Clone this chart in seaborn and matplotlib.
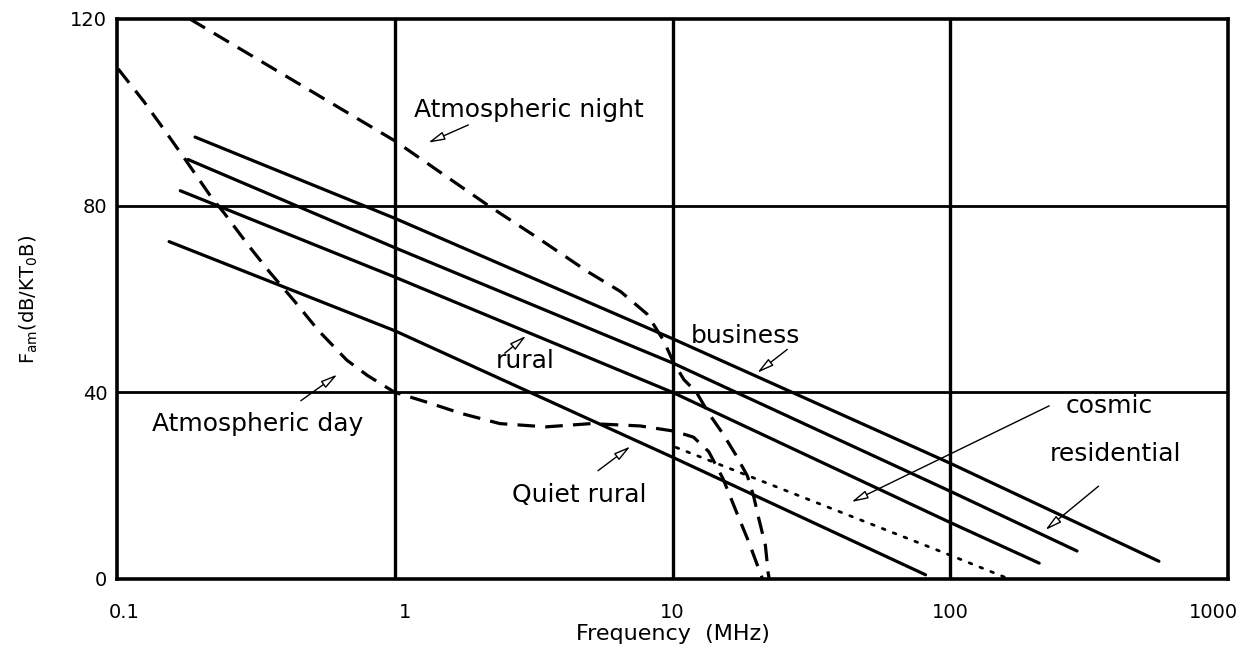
import numpy as np
import matplotlib
matplotlib.use("Agg")
import matplotlib.pyplot as plt
import matplotlib.transforms as mtransforms
import seaborn as sns

# ---- data (frequency in MHz, noise figure Fam in dB) ----
freq_business = [0.191, 1.0, 10.0, 100.0, 564.0]
fam_business = [94.7, 77.3, 51.5, 24.8, 3.8]

freq_residential = [0.180, 1.0, 10.0, 100.0, 286.0]
fam_residential = [89.9, 71.0, 46.3, 18.8, 6.0]

freq_rural = [0.169, 1.0, 10.0, 100.0, 209.0]
fam_rural = [83.2, 64.7, 40.0, 12.1, 3.4]

freq_quiet_rural = [0.154, 1.0, 10.0, 81.5]
fam_quiet_rural = [72.3, 53.2, 26.1, 0.9]

freq_cosmic = [10.3, 100.0, 157.0]
fam_cosmic = [28.2, 5.1, 0.4]

freq_atm_night = [0.183, 1.0, 2.20, 3.31, 4.97, 6.50, 8.09, 9.29, 10.1, 11.0,
                  12.2, 13.5, 15.2, 16.9, 18.6, 19.6, 20.4, 21.6, 22.1, 22.3]
fam_atm_night = [120.0, 93.9, 79.8, 72.9, 65.8, 61.6, 56.8, 51.1, 46.3, 42.7,
                 40.0, 35.5, 31.1, 26.6, 22.1, 17.7, 13.2, 7.2, 1.3, 0.0]

freq_atm_day = [0.101, 0.125, 0.149, 0.177, 0.218, 0.244, 0.298, 0.354, 0.436,
                0.532, 0.672, 0.798, 1.0, 1.32, 1.73, 2.39, 3.50, 5.09, 7.64,
                10.1, 11.9, 13.5, 15.2, 16.9, 18.8, 20.7, 21.1]
fam_atm_day = [109.3, 102.3, 96.0, 89.7, 81.9, 78.3, 71.4, 65.8, 59.5, 53.2,
               46.9, 43.6, 40.0, 37.8, 35.5, 33.3, 32.6, 33.3, 32.8, 31.7,
               30.4, 27.3, 21.5, 14.7, 8.0, 1.3, 0.0]

x_ticks = [0.1, 1, 10, 100, 1000]
x_tick_labels = ["0.1", "1", "10", "100", "1000"]
y_ticks = [0, 40, 80, 120]
y_tick_labels = ["0", "40", "80", "120"]

# labels: (text, text position, arrow tail, arrow tip)
labels = ["Atmospheric night", "Atmospheric day", "rural", "business",
          "Quiet rural", "cosmic", "residential"]
label_xy = [(3.05, 100.4), (0.322, 33.3), (2.95, 46.7), (18.3, 52.1),
            (4.62, 17.9), (374, 37.1), (393, 26.8)]
arrow_tail = [(1.84, 97.3), (0.459, 38.2), (2.49, 48.4), (25.9, 49.2),
              (5.39, 23.2), (227, 37.1), (342, 19.9)]
arrow_tip = [(1.32, 93.5), (0.621, 43.8), (2.97, 52.1), (20.2, 44.2),
             (7.05, 28.4), (44.1, 16.5), (220, 10.5)]

# ---- figure ----
sns.set_style("white")
plt.rcParams["font.family"] = ["DejaVu Sans"]

fig = plt.figure(figsize=(12.48, 6.53), dpi=100)
ax = fig.add_axes([117 / 1248, 1 - 579 / 653, (1228 - 117) / 1248, (579 - 19) / 653])

LW = 2.3
solid_sets = [(freq_business, fam_business), (freq_residential, fam_residential),
              (freq_rural, fam_rural), (freq_quiet_rural, fam_quiet_rural)]
for fx, fy in solid_sets:
    sns.lineplot(x=fx, y=fy, ax=ax, color="black", lw=LW, sort=False,
                 estimator=None, solid_capstyle="round")

sns.lineplot(x=freq_atm_night, y=fam_atm_night, ax=ax, color="black", lw=LW,
             sort=False, estimator=None, linestyle=(0, (5.5, 3.2)))
sns.lineplot(x=freq_atm_day, y=fam_atm_day, ax=ax, color="black", lw=LW,
             sort=False, estimator=None, linestyle=(0, (5.5, 3.2)))
sns.lineplot(x=freq_cosmic, y=fam_cosmic, ax=ax, color="black", lw=2.0,
             sort=False, estimator=None, linestyle=(0, (1, 3.2)),
             dash_capstyle="round")

ax.set_xscale("log")
ax.set_xlim(0.1, 1000)
ax.set_ylim(0, 120)
ax.set_xticks(x_ticks)
ax.set_xticklabels(x_tick_labels)
ax.set_yticks(y_ticks)
ax.set_yticklabels(y_tick_labels)
ax.minorticks_off()
ax.tick_params(axis="both", length=0, labelsize=14, labelcolor="black")
ax.tick_params(axis="x", pad=17)
ax.tick_params(axis="y", pad=7)

# nudge x tick labels as in the reference
x_shift_px = [7, 10, 0, 0, -15]
for lab, dx in zip(ax.get_xticklabels(), x_shift_px):
    lab.set_transform(lab.get_transform() +
                      mtransforms.ScaledTranslation(dx / 100, 0, fig.dpi_scale_trans))

for v in [1, 10, 100]:
    ax.axvline(v, color="black", lw=2.4, zorder=1)
for v in [40, 80]:
    ax.axhline(v, color="black", lw=2.0, zorder=1)
for s in ax.spines.values():
    s.set_color("black")
    s.set_linewidth(2.6)

ax.set_xlabel("Frequency  (MHz)", fontsize=16, labelpad=2, color="black")
ax.set_ylabel(r"F$_{\rm am}$(dB/KT$_{\rm 0}$B)", fontsize=14, labelpad=22,
              color="black")

for txt, pos, tail, tip in zip(labels, label_xy, arrow_tail, arrow_tip):
    ax.text(pos[0], pos[1], txt, fontsize=18, ha="center", va="center",
            color="black", zorder=5)
    ax.annotate("", xy=tip, xytext=tail,
                arrowprops=dict(arrowstyle="-|>,head_length=1.0,head_width=0.25",
                                fc="white", ec="black", lw=1.0,
                                shrinkA=0, shrinkB=0))

fig.savefig("out.png", dpi=100, facecolor="white")
